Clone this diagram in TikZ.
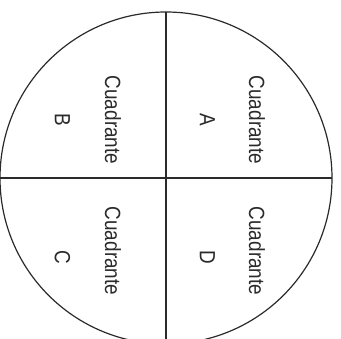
\documentclass[tikz,border=0pt]{standalone}
\usepackage{fontspec}
\setmainfont{Liberation Sans}
\newfontfamily\condfont[FakeStretch=0.86]{Liberation Sans}
\definecolor{ink}{HTML}{2A2A2A}
\begin{document}
\begin{tikzpicture}[x=1pt,y=-1pt,
  txt/.style={font=\condfont\fontsize{22}{24}\selectfont, text=ink, rotate=-90, anchor=base, inner sep=0pt},
  ln/.style={draw=ink, line width=1.2pt}]
\useasboundingbox (0,0) rectangle (341,339);
\clip (0,0) rectangle (341,339);
\coordinate (O) at (166,178);
\coordinate (T) at (166,12);
\coordinate (Bt) at (166,344);
\coordinate (L) at (0,178);
\coordinate (R) at (332,178);
\draw[ln] (O) circle[radius=166];
\draw[ln] (T) -- (Bt);
\draw[ln] (L) -- (R);
\node[txt] (ca) at (249,120) {Cuadrante};
\node[txt] (la) at (200,120) {A};
\node[txt] (cb) at (105,120) {Cuadrante};
\node[txt] (lb) at (55,120) {B};
\node[txt] (cc) at (105,251) {Cuadrante};
\node[txt] (lc) at (55,257) {C};
\node[txt] (cd) at (249,251) {Cuadrante};
\node[txt] (ld) at (200,257) {D};
\end{tikzpicture}
\end{document}
